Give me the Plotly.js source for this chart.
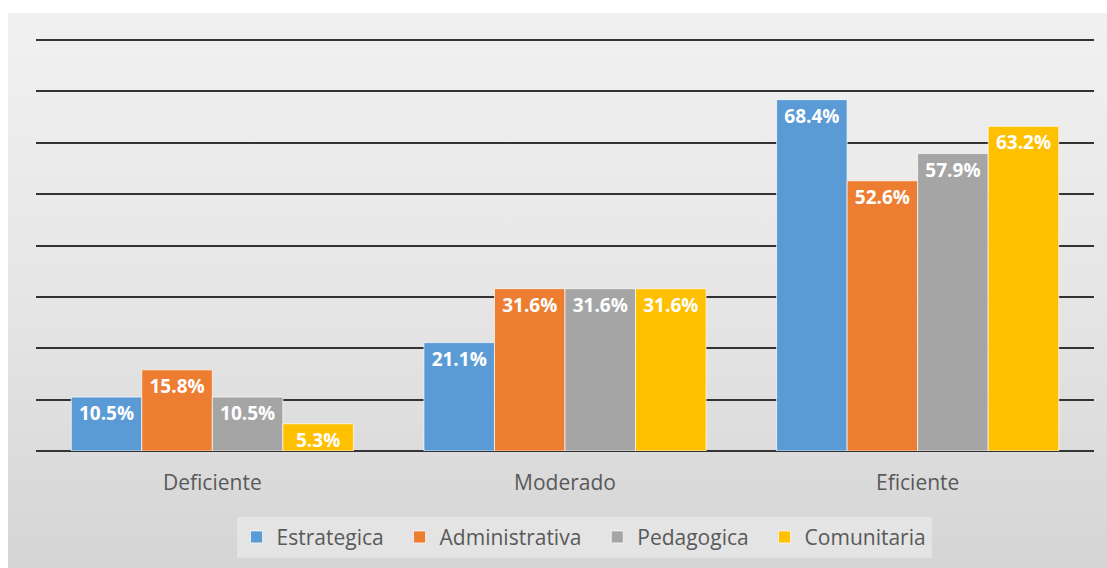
<!DOCTYPE html>
<html>
<head>
<meta charset="utf-8">
<script src="https://cdn.plot.ly/plotly-3.0.1.min.js"></script>
<style>
  html, body { margin: 0; padding: 0; background: #ffffff; }
  #wrap { position: relative; width: 1107px; height: 568px; overflow: hidden; }
  #bg { position: absolute; left: 8px; top: 13px; width: 1099px; height: 555px;
        background: linear-gradient(to bottom, #f1f1f1 0%, #e6e6e6 50%, #d5d5d5 100%); }
  #chart { position: absolute; left: 0; top: 0; width: 1107px; height: 568px; }
</style>
</head>
<body>
<div id="wrap">
  <div id="bg"></div>
  <div id="chart"></div>
</div>
<script>
const categories = ["Deficiente", "Moderado", "Eficiente"];
const seriesNames = ["Estrategica", "Administrativa", "Pedagogica", "Comunitaria"];
const estrategica = [10.5, 21.1, 68.4];
const administrativa = [15.8, 31.6, 52.6];
const pedagogica = [10.5, 31.6, 57.9];
const comunitaria = [5.3, 31.6, 63.2];
const seriesColors = ["#5B9BD5", "#ED7D31", "#A5A5A5", "#FFC000"];
const allValues = [estrategica, administrativa, pedagogica, comunitaria];

const traces = allValues.map((vals, i) => ({
  type: "bar",
  name: seriesNames[i] + (i < seriesNames.length - 1 ? "\u00a0\u00a0" : ""),
  x: categories,
  y: vals,
  text: vals.map(v => v.toFixed(1) + "%"),
  textposition: "inside",
  insidetextanchor: "end",
  constraintext: "none",
  textangle: 0,
  textfont: { family: "Open Sans, sans-serif", size: 19, color: "#ffffff", weight: "bold" },
  marker: { color: seriesColors[i], line: { color: "rgba(255,255,255,0.7)", width: 1 } },
  hoverinfo: "skip"
}));

const layout = {
  width: 1107,
  height: 568,
  paper_bgcolor: "rgba(0,0,0,0)",
  plot_bgcolor: "rgba(0,0,0,0)",
  margin: { l: 36, r: 13, t: 38, b: 116 },
  barmode: "group",
  bargap: 0.2,
  bargroupgap: 0,
  showlegend: true,
  legend: {
    orientation: "h",
    x: 0.518,
    xanchor: "center",
    y: -0.206,
    yanchor: "middle",
    font: { family: "Open Sans, sans-serif", size: 21, color: "#595959" },
    bgcolor: "rgba(236,236,236,0.6)",
    itemwidth: 30,
    traceorder: "normal"
  },
  xaxis: {
    type: "category",
    showgrid: false,
    showline: false,
    ticks: "",
    tickfont: { family: "Open Sans, sans-serif", size: 21, color: "#595959" },
    ticklabelstandoff: 17
  },
  yaxis: {
    range: [0, 80.4],
    dtick: 10,
    showticklabels: false,
    showgrid: true,
    gridcolor: "#333333",
    gridwidth: 2,
    zeroline: true,
    zerolinecolor: "#333333",
    zerolinewidth: 2,
    showline: false,
    ticks: ""
  },
  font: { family: "Open Sans, sans-serif" }
};

Plotly.newPlot("chart", traces, layout, { displayModeBar: false, staticPlot: true });
</script>
</body>
</html>
